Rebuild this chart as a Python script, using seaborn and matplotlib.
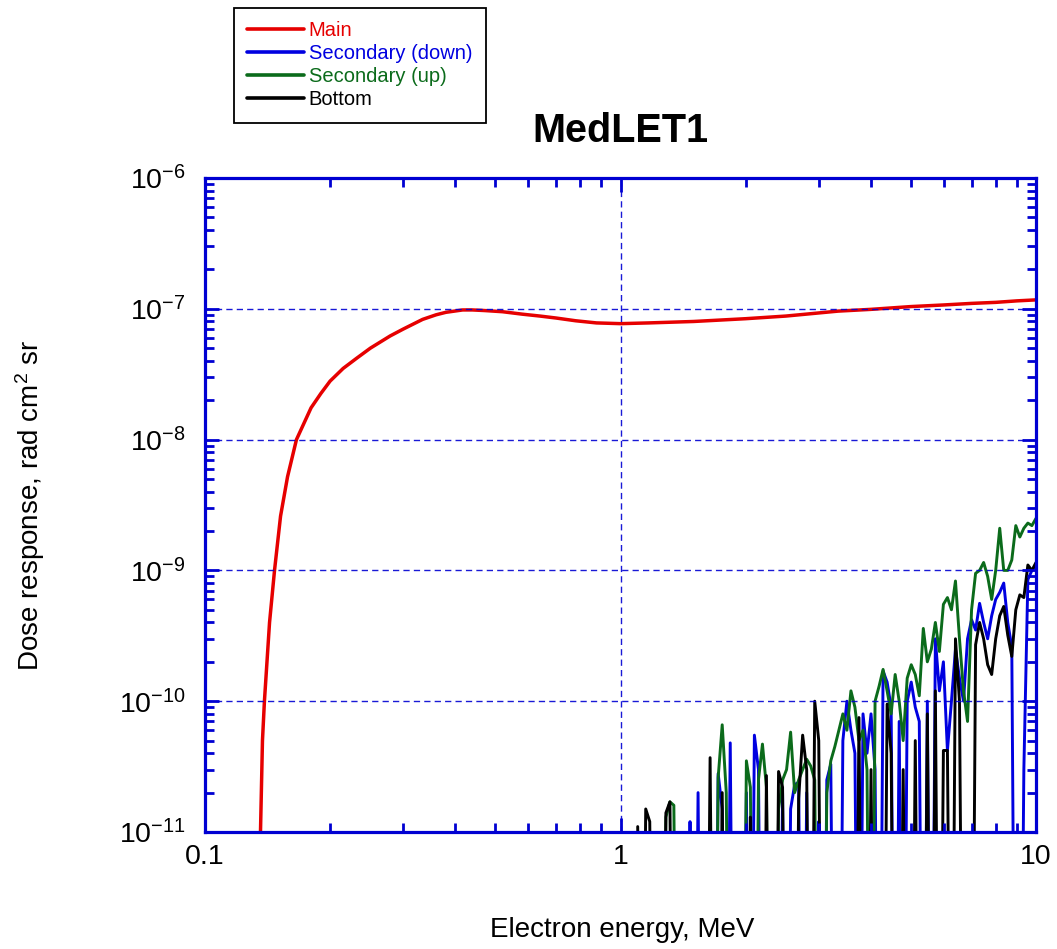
import numpy as np
import pandas as pd
import matplotlib
matplotlib.use("Agg")
import matplotlib.pyplot as plt
from matplotlib.ticker import LogFormatterSciNotation, NullFormatter
import seaborn as sns

# ---- data -------------------------------------------------------------
main_energy = [0.1360, 0.1375, 0.1390, 0.1430, 0.1470, 0.1520, 0.1580, 0.1660,
               0.1800, 0.1900, 0.2000, 0.2150, 0.2320, 0.2500, 0.2790, 0.3000,
               0.3340, 0.3600, 0.3800, 0.4170, 0.4400, 0.4700, 0.5200, 0.5800,
               0.6400, 0.7000, 0.7800, 0.8750, 1.000, 1.170, 1.500, 2.000,
               2.500, 3.340, 4.000, 5.000, 6.000, 7.000, 8.000, 9.000, 10.00]
main_dose = [1.0e-11, 5.0e-11, 1.0e-10, 4.0e-10, 1.0e-9, 2.6e-9, 5.2e-9, 1.0e-8,
             1.75e-8, 2.25e-8, 2.8e-8, 3.5e-8, 4.2e-8, 5.0e-8, 6.2e-8, 7.0e-8,
             8.3e-8, 9.0e-8, 9.4e-8, 9.8e-8, 9.8e-8, 9.7e-8, 9.5e-8, 9.1e-8,
             8.8e-8, 8.5e-8, 8.1e-8, 7.8e-8, 7.7e-8, 7.8e-8, 8.0e-8, 8.4e-8,
             8.8e-8, 9.6e-8, 9.9e-8, 1.04e-7, 1.07e-7, 1.10e-7, 1.12e-7, 1.15e-7, 1.17e-7]

# energy bins of the secondary / bottom detectors, MeV
bin_energy = [1.100, 1.125, 1.150, 1.176, 1.203, 1.230, 1.257, 1.286, 1.315, 1.344,
              1.375, 1.406, 1.437, 1.470, 1.503, 1.537, 1.572, 1.607, 1.643, 1.680,
              1.718, 1.757, 1.797, 1.837, 1.879, 1.921, 1.964, 2.009, 2.054, 2.100,
              2.148, 2.196, 2.245, 2.296, 2.348, 2.401, 2.455, 2.510, 2.567, 2.625,
              2.684, 2.744, 2.806, 2.869, 2.934, 3.000, 3.067, 3.137, 3.207, 3.280,
              3.354, 3.429, 3.507, 3.586, 3.666, 3.749, 3.834, 3.920, 4.008, 4.099,
              4.191, 4.285, 4.382, 4.481, 4.582, 4.685, 4.790, 4.898, 5.009, 5.122,
              5.237, 5.355, 5.476, 5.599, 5.725, 5.854, 5.986, 6.121, 6.259, 6.400,
              6.544, 6.692, 6.843, 6.997, 7.155, 7.316, 7.481, 7.650, 7.822, 7.998,
              8.179, 8.363, 8.551, 8.744, 8.941, 9.143, 9.349, 9.559, 9.775, 10.00]

sec_down_dose = [0, 0, 0, 0, 0, 0, 0, 0, 0, 0,
                 0, 0, 0, 1.2e-11, 0, 2.0e-11, 0, 0, 0, 0,
                 2.8e-11, 1.5e-11, 0, 4.8e-11, 0, 0, 0, 2.0e-11, 0, 5.5e-11,
                 3.0e-11, 0, 0, 0, 0, 0, 2.0e-11, 0, 1.5e-11, 2.3e-11,
                 2.4e-11, 0, 2.0e-11, 0, 0, 1.2e-11, 0, 2.5e-11, 3.3e-11, 0,
                 0, 5.0e-11, 1.0e-10, 6.0e-11, 4.0e-11, 0, 8.0e-11, 4.0e-11, 8.0e-11, 3.0e-11,
                 0, 1.7e-10, 1.4e-10, 9.0e-11, 0, 7.0e-11, 0, 1.0e-10, 1.4e-10, 9.0e-11,
                 7.0e-11, 0, 1.0e-10, 0, 3.0e-10, 1.2e-10, 2.0e-10, 4.2e-11, 1.0e-10, 2.5e-10,
                 1.5e-10, 1.0e-10, 3.0e-10, 4.2e-10, 3.5e-10, 5.6e-10, 4.0e-10, 3.0e-10, 4.5e-10, 6.0e-10,
                 6.8e-10, 8.0e-10, 4.0e-10, 2.6e-10, 0, 0, 3.0e-11, 8.5e-10, 1.0e-9, 1.1e-9]

sec_up_dose = [0, 0, 0, 0, 0, 0, 0, 1.3e-11, 1.7e-11, 1.6e-11,
               0, 0, 0, 0, 0, 0, 0, 0, 0, 0,
               2.6e-11, 6.6e-11, 2.0e-11, 0, 0, 0, 0, 3.5e-11, 2.2e-11, 0,
               2.5e-11, 4.7e-11, 2.2e-11, 0, 0, 1.5e-11, 2.5e-11, 3.0e-11, 5.8e-11, 2.0e-11,
               2.5e-11, 3.0e-11, 3.6e-11, 3.2e-11, 2.5e-11, 0, 0, 2.0e-11, 3.5e-11, 4.5e-11,
               6.0e-11, 8.0e-11, 6.0e-11, 1.2e-10, 9.0e-11, 5.0e-11, 6.0e-11, 3.0e-11, 0, 1.0e-10,
               1.3e-10, 1.75e-10, 1.2e-10, 8.0e-11, 1.6e-10, 1.0e-10, 5.0e-11, 1.5e-10, 1.9e-10, 1.6e-10,
               1.1e-10, 3.6e-10, 2.0e-10, 2.5e-10, 4.0e-10, 2.4e-10, 5.5e-10, 6.2e-10, 5.0e-10, 8.3e-10,
               3.0e-10, 1.2e-10, 7.0e-11, 5.0e-10, 9.5e-10, 1.0e-9, 1.15e-9, 9.0e-10, 6.0e-10, 1.0e-9,
               2.1e-9, 1.0e-9, 1.0e-9, 1.2e-9, 2.2e-9, 1.8e-9, 2.1e-9, 2.3e-9, 2.2e-9, 2.5e-9]

bottom_dose = [1.1e-11, 0, 1.5e-11, 1.2e-11, 0, 0, 0, 1.4e-11, 1.7e-11, 0,
               0, 0, 0, 0, 0, 0, 0, 0, 3.7e-11, 0,
               0, 2.0e-11, 0, 0, 0, 0, 0, 0, 1.3e-11, 0,
               0, 0, 2.7e-11, 0, 0, 2.9e-11, 2.2e-11, 0, 0, 0,
               1.8e-11, 5.5e-11, 3.0e-11, 0, 1.0e-10, 5.0e-11, 0, 0, 0, 0,
               0, 0, 0, 0, 0, 7.5e-11, 0, 0, 3.0e-11, 0,
               0, 0, 9.5e-11, 4.0e-11, 0, 0, 3.0e-11, 0, 0, 5.0e-11,
               0, 0, 8.0e-11, 0, 1.2e-10, 0, 4.2e-11, 4.2e-11, 0, 3.0e-10,
               1.0e-10, 0, 0, 0, 2.7e-10, 4.0e-10, 3.0e-10, 1.9e-10, 1.6e-10, 3.0e-10,
               4.5e-10, 5.3e-10, 3.2e-10, 2.2e-10, 5.0e-10, 6.5e-10, 6.2e-10, 1.1e-9, 1.0e-9, 1.15e-9]

series_names = ["Main", "Secondary (down)", "Secondary (up)", "Bottom"]
series_colors = ["#E60000", "#0000E0", "#0B6B1B", "#000000"]
series_widths = [2.5, 2.1, 2.1, 2.1]

x_major = [0.1, 1, 10]
y_decades = [-11, -10, -9, -8, -7, -6]

# ---- tidy table ---------------------------------------------------------
frames = [pd.DataFrame({"energy": main_energy, "dose": main_dose, "detector": "Main"})]
for name, vals in zip(series_names[1:], [sec_down_dose, sec_up_dose, bottom_dose]):
    frames.append(pd.DataFrame({"energy": bin_energy, "dose": vals, "detector": name}))
df = pd.concat(frames, ignore_index=True)
# empty bins sit below the plotted range
df["dose"] = df["dose"].where(df["dose"] > 0, 1e-14)

# ---- style --------------------------------------------------------------
sns.set_style("white")
plt.rcParams["font.family"] = ["Liberation Sans", "DejaVu Sans"]
plt.rcParams["text.color"] = "black"
plt.rcParams["axes.labelcolor"] = "black"
plt.rcParams["mathtext.fontset"] = "custom"
plt.rcParams["mathtext.rm"] = "Liberation Sans"
plt.rcParams["mathtext.it"] = "Liberation Sans:italic"
plt.rcParams["mathtext.bf"] = "Liberation Sans:bold"
plt.rcParams["mathtext.default"] = "regular"

axis_blue = "#0000D2"

fig = plt.figure(figsize=(10.57, 9.49), dpi=100)
ax = fig.add_axes([205 / 1057, 1 - 832 / 949, 831 / 1057, 654 / 949])

for name, color, lw in zip(series_names, series_colors, series_widths):
    sub = df[df["detector"] == name]
    sns.lineplot(data=sub, x="energy", y="dose", color=color, linewidth=lw,
                 estimator=None, sort=False, label=name, ax=ax)

ax.set_xscale("log")
ax.set_yscale("log")
ax.set_xlim(0.1, 10)
ax.set_ylim(1e-11, 1e-6)

# ticks only inside the visible decades
y_major = [10.0 ** d for d in y_decades]
x_minor = [m * x for x in x_major[:-1] for m in range(2, 10)]
y_minor = [m * y for y in y_major[:-1] for m in range(2, 10)]
ax.set_xticks(x_major)
ax.set_xticks(x_minor, minor=True)
ax.set_yticks(y_major)
ax.set_yticks(y_minor, minor=True)
ax.xaxis.set_minor_formatter(NullFormatter())
ax.yaxis.set_minor_formatter(NullFormatter())
ax.xaxis.set_major_formatter(plt.FuncFormatter(lambda v, p: f"{v:g}"))
ax.yaxis.set_major_formatter(LogFormatterSciNotation())

for side in ax.spines.values():
    side.set_color(axis_blue)
    side.set_linewidth(2.3)

ax.tick_params(which="both", direction="in", top=True, right=True,
               bottom=True, left=True, color=axis_blue, labelcolor="black")
ax.tick_params(which="major", length=10, width=2.0, labelsize=20.5)
ax.tick_params(which="minor", length=6.5, width=2.0)
ax.tick_params(axis="x", which="major", pad=9)
ax.tick_params(axis="y", which="major", pad=14)

ax.grid(which="major", color=axis_blue, linestyle=(0, (4.5, 3.0)),
        linewidth=1.0, alpha=0.9)
ax.set_axisbelow(False)

ax.set_xlabel("Electron energy, MeV", fontsize=20, va="center", color="black")
ax.xaxis.set_label_coords(0.502, -0.15)
ax.set_ylabel("Dose response, rad cm$^{\\mathregular{2}}$ sr", fontsize=20,
              va="center", color="black")
ax.yaxis.set_label_coords(-0.21, 0.5)

ax.text(0.5, 1.072, "MedLET1", transform=ax.transAxes, ha="center", va="center",
        fontsize=28.5, fontweight="bold", color="black")

handles, labels = ax.get_legend_handles_labels()
ax.get_legend().remove()
leg = fig.legend(handles, labels, loc="upper left",
                 bbox_to_anchor=(234 / 1057, 1 - 8 / 949), borderaxespad=0,
                 fontsize=14.5, labelcolor="linecolor", frameon=True,
                 fancybox=False, framealpha=1, edgecolor="black",
                 handlelength=2.8, handletextpad=0.25, labelspacing=0.2,
                 borderpad=0.66)
leg.get_frame().set_linewidth(1.3)
for line in leg.get_lines():
    line.set_linewidth(2.6)

fig.savefig("out.png", dpi=100)
